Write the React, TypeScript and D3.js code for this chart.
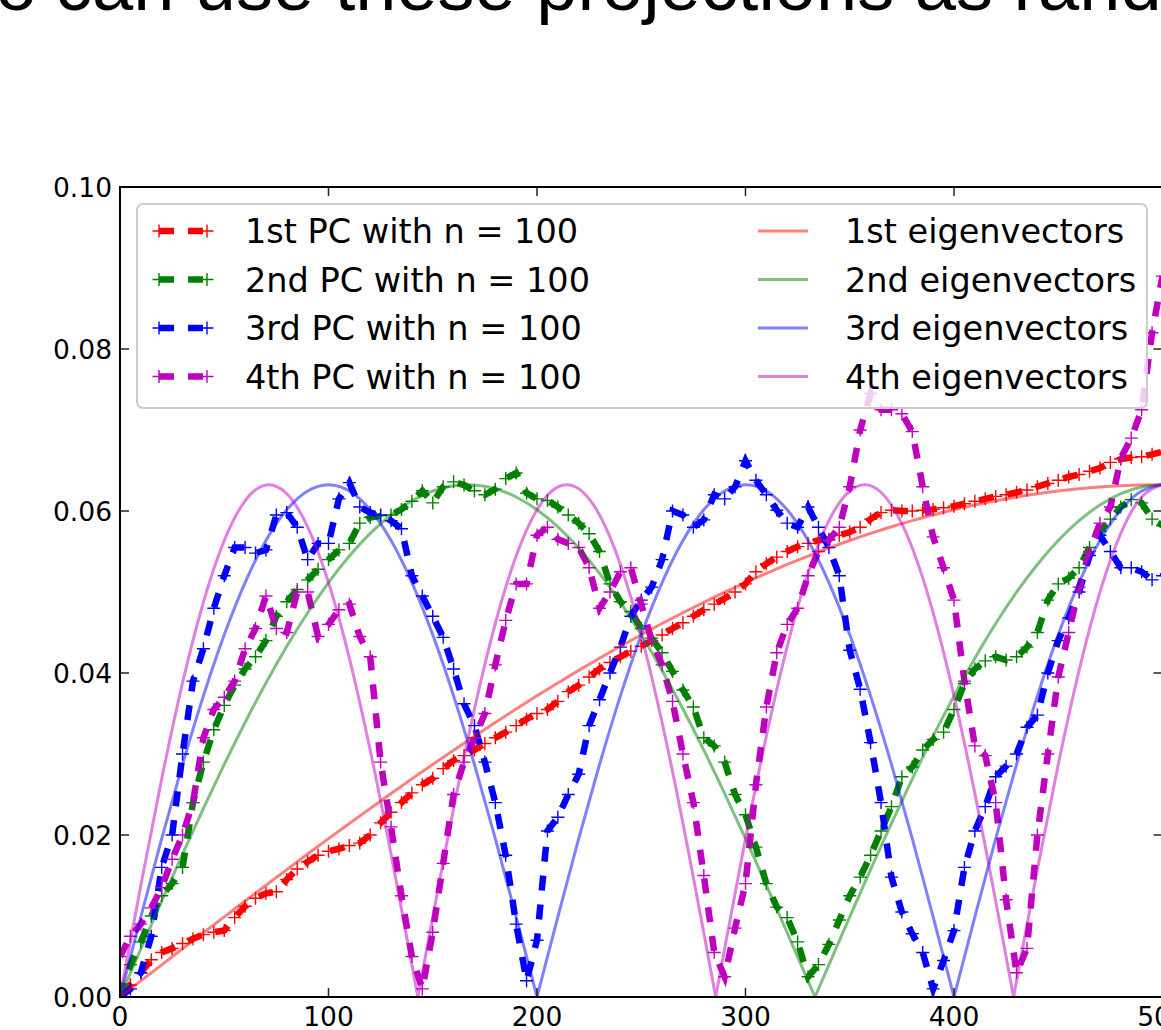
import React from 'react';
import * as d3 from 'd3';

// ---- data ----
const xTicks = [0, 100, 200, 300, 400, 500];
const yTicks = [0, 0.02, 0.04, 0.06, 0.08, 0.1];
const pcX = d3.range(0, 501, 5);

const pc1 = [
  0.0005, 0.0015, 0.0030, 0.0046, 0.0055, 0.0060, 0.0066, 0.0072, 0.0077, 0.0080,
  0.0082, 0.0098, 0.0112, 0.0122, 0.0128, 0.0130, 0.0145, 0.0158, 0.0167, 0.0175,
  0.0180, 0.0183, 0.0187, 0.0190, 0.0200, 0.0215, 0.0228, 0.0240, 0.0252, 0.0262,
  0.0270, 0.0282, 0.0292, 0.0298, 0.0305, 0.0313, 0.0320, 0.0327, 0.0335, 0.0343,
  0.0350, 0.0355, 0.0365, 0.0377, 0.0385, 0.0395, 0.0405, 0.0413, 0.0420, 0.0427,
  0.0433, 0.0440, 0.0447, 0.0455, 0.0462, 0.0470, 0.0478, 0.0485, 0.0492, 0.0500,
  0.0510, 0.0525, 0.0535, 0.0543, 0.0550, 0.0556, 0.0560, 0.0564, 0.0565, 0.0570,
  0.0574, 0.0580, 0.0590, 0.0598, 0.0601, 0.0600, 0.0600, 0.0601, 0.0602, 0.0604,
  0.0606, 0.0609, 0.0612, 0.0615, 0.0618, 0.0620, 0.0623, 0.0626, 0.0630, 0.0634,
  0.0638, 0.0642, 0.0645, 0.0649, 0.0653, 0.0660, 0.0664, 0.0666, 0.0667, 0.0670,
  0.0673,
];
const pc2 = [
  0.0000, 0.0040, 0.0068, 0.0100, 0.0125, 0.0140, 0.0160, 0.0240, 0.0290, 0.0330,
  0.0360, 0.0385, 0.0405, 0.0420, 0.0440, 0.0470, 0.0488, 0.0503, 0.0515, 0.0528,
  0.0540, 0.0552, 0.0560, 0.0585, 0.0592, 0.0594, 0.0595, 0.0602, 0.0612, 0.0625,
  0.0610, 0.0630, 0.0636, 0.0632, 0.0625, 0.0620, 0.0627, 0.0640, 0.0647, 0.0622,
  0.0615, 0.0613, 0.0605, 0.0595, 0.0585, 0.0572, 0.0550, 0.0510, 0.0488, 0.0476,
  0.0455, 0.0443, 0.0425, 0.0402, 0.0379, 0.0358, 0.0320, 0.0310, 0.0290, 0.0250,
  0.0225, 0.0185, 0.0140, 0.0111, 0.0098, 0.0068, 0.0025, 0.0040, 0.0065, 0.0095,
  0.0125, 0.0148, 0.0175, 0.0205, 0.0235, 0.0272, 0.0284, 0.0305, 0.0318, 0.0327,
  0.0355, 0.0387, 0.0405, 0.0415, 0.0420, 0.0416, 0.0420, 0.0432, 0.0450, 0.0490,
  0.0510, 0.0517, 0.0530, 0.0555, 0.0575, 0.0590, 0.0605, 0.0614, 0.0610, 0.0590,
  0.0582,
];
const pc3 = [
  0.0000, 0.0010, 0.0030, 0.0075, 0.0160, 0.0200, 0.0300, 0.0390, 0.0430, 0.0480,
  0.0520, 0.0555, 0.0555, 0.0548, 0.0552, 0.0595, 0.0598, 0.0580, 0.0540, 0.0560,
  0.0560, 0.0615, 0.0635, 0.0605, 0.0598, 0.0595, 0.0588, 0.0578, 0.0520, 0.0495,
  0.0470, 0.0444, 0.0405, 0.0362, 0.0335, 0.0290, 0.0240, 0.0175, 0.0090, 0.0020,
  0.0070, 0.0205, 0.0222, 0.0250, 0.0275, 0.0335, 0.0367, 0.0400, 0.0432, 0.0470,
  0.0490, 0.0506, 0.0540, 0.0600, 0.0595, 0.0580, 0.0589, 0.0620, 0.0615, 0.0630,
  0.0662, 0.0638, 0.0620, 0.0601, 0.0585, 0.0580, 0.0605, 0.0580, 0.0555, 0.0520,
  0.0428, 0.0380, 0.0314, 0.0240, 0.0148, 0.0105, 0.0078, 0.0055, 0.0010, 0.0045,
  0.0082, 0.0160, 0.0205, 0.0235, 0.0272, 0.0285, 0.0300, 0.0333, 0.0348, 0.0400,
  0.0440, 0.0468, 0.0500, 0.0545, 0.0570, 0.0550, 0.0530, 0.0530, 0.0525, 0.0515,
  0.0520,
];
const pc4 = [
  0.0050, 0.0075, 0.0090, 0.0110, 0.0135, 0.0170, 0.0200, 0.0240, 0.0320, 0.0355,
  0.0370, 0.0390, 0.0430, 0.0455, 0.0495, 0.0455, 0.0450, 0.0500, 0.0500, 0.0445,
  0.0460, 0.0478, 0.0485, 0.0445, 0.0420, 0.0290, 0.0210, 0.0125, 0.0050, 0.0010,
  0.0080, 0.0165, 0.0250, 0.0290, 0.0320, 0.0350, 0.0410, 0.0465, 0.0510, 0.0510,
  0.0570, 0.0580, 0.0565, 0.0560, 0.0555, 0.0530, 0.0480, 0.0500, 0.0525, 0.0530,
  0.0485, 0.0440, 0.0410, 0.0365, 0.0300, 0.0240, 0.0150, 0.0055, 0.0025, 0.0085,
  0.0140, 0.0262, 0.0358, 0.0425, 0.0460, 0.0480, 0.0520, 0.0550, 0.0564, 0.0580,
  0.0630, 0.0700, 0.0745, 0.0725, 0.0725, 0.0720, 0.0698, 0.0630, 0.0568, 0.0530,
  0.0490, 0.0390, 0.0310, 0.0298, 0.0240, 0.0120, 0.0030, 0.0060, 0.0200, 0.0300,
  0.0395, 0.0450, 0.0506, 0.0550, 0.0585, 0.0605, 0.0665, 0.0690, 0.0725, 0.0820,
  0.0890,
];

// eigenvector curves as [x, value] pairs
const eig1: [number, number][] = [
  [0, 0], [10, 0.00199], [20, 0.00397], [30, 0.00595], [40, 0.00793], [50, 0.00989],
  [60, 0.01185], [70, 0.0138], [80, 0.01573], [90, 0.01765], [100, 0.01955],
  [110, 0.02143], [120, 0.02328], [130, 0.02512], [140, 0.02693], [150, 0.02871],
  [160, 0.03047], [170, 0.0322], [180, 0.03389], [190, 0.03555], [200, 0.03718],
  [210, 0.03877], [220, 0.04032], [230, 0.04183], [240, 0.0433], [250, 0.04472],
  [260, 0.04611], [270, 0.04744], [280, 0.04873], [290, 0.04998], [300, 0.05117],
  [310, 0.05231], [320, 0.0534], [330, 0.05444], [340, 0.05543], [350, 0.05636],
  [360, 0.05723], [370, 0.05805], [380, 0.05881], [390, 0.05951], [400, 0.06015],
  [410, 0.06074], [420, 0.06126], [430, 0.06173], [440, 0.06213], [450, 0.06247],
  [460, 0.06275], [470, 0.06297], [480, 0.06313], [490, 0.06322], [500, 0.06325],
];
const eig2: [number, number][] = [
  [0, 0], [10, 0.00595], [20, 0.01185], [30, 0.01765], [40, 0.02328], [50, 0.02871],
  [60, 0.03389], [70, 0.03877], [80, 0.0433], [90, 0.04744], [100, 0.05117],
  [110, 0.05444], [120, 0.05723], [130, 0.05951], [140, 0.06126], [150, 0.06247],
  [160, 0.06313], [170, 0.06322], [180, 0.06275], [190, 0.06173], [200, 0.06015],
  [210, 0.05805], [220, 0.05543], [230, 0.05231], [240, 0.04873], [250, 0.04472],
  [260, 0.04032], [270, 0.03555], [280, 0.03047], [290, 0.02512], [300, 0.01955],
  [310, 0.0138], [320, 0.00793], [330, 0.00199], [333.33, 0], [340, 0.00397],
  [350, 0.00989], [360, 0.01573], [370, 0.02143], [380, 0.02693], [390, 0.0322],
  [400, 0.03718], [410, 0.04183], [420, 0.04611], [430, 0.04998], [440, 0.0534],
  [450, 0.05636], [460, 0.05881], [470, 0.06074], [480, 0.06213], [490, 0.06297],
  [500, 0.06325],
];
const eig3: [number, number][] = [
  [0, 0], [10, 0.00989], [20, 0.01955], [30, 0.02871], [40, 0.03718], [50, 0.04472],
  [60, 0.05117], [70, 0.05636], [80, 0.06015], [90, 0.06247], [100, 0.06325],
  [110, 0.06247], [120, 0.06015], [130, 0.05636], [140, 0.05117], [150, 0.04472],
  [160, 0.03718], [170, 0.02871], [180, 0.01955], [190, 0.00989], [200, 0],
  [210, 0.00989], [220, 0.01955], [230, 0.02871], [240, 0.03718], [250, 0.04472],
  [260, 0.05117], [270, 0.05636], [280, 0.06015], [290, 0.06247], [300, 0.06325],
  [310, 0.06247], [320, 0.06015], [330, 0.05636], [340, 0.05117], [350, 0.04472],
  [360, 0.03718], [370, 0.02871], [380, 0.01955], [390, 0.00989], [400, 0],
  [410, 0.00989], [420, 0.01955], [430, 0.02871], [440, 0.03718], [450, 0.04472],
  [460, 0.05117], [470, 0.05636], [480, 0.06015], [490, 0.06247], [500, 0.06325],
];
const eig4: [number, number][] = [
  [0, 0], [10, 0.0138], [20, 0.02693], [30, 0.03877], [40, 0.04873], [50, 0.05636],
  [60, 0.06126], [70, 0.06322], [80, 0.06213], [90, 0.05805], [100, 0.05117],
  [110, 0.04183], [120, 0.03047], [130, 0.01765], [140, 0.00397], [142.86, 0],
  [150, 0.00989], [160, 0.02328], [170, 0.03555], [180, 0.04611], [190, 0.05444],
  [200, 0.06015], [210, 0.06297], [220, 0.06275], [230, 0.05951], [240, 0.0534],
  [250, 0.04472], [260, 0.03389], [270, 0.02143], [280, 0.00793], [285.71, 0],
  [290, 0.00595], [300, 0.01955], [310, 0.0322], [320, 0.0433], [330, 0.05231],
  [340, 0.05881], [350, 0.06247], [360, 0.06313], [370, 0.06074], [380, 0.05543],
  [390, 0.04744], [400, 0.03718], [410, 0.02512], [420, 0.01185], [428.57, 0],
  [430, 0.00199], [440, 0.01573], [450, 0.02871], [460, 0.04032], [470, 0.04998],
  [480, 0.05723], [490, 0.06173], [500, 0.06325],
];

const pcLabels = ['1st PC with n = 100', '2nd PC with n = 100', '3rd PC with n = 100', '4th PC with n = 100'];
const eigLabels = ['1st eigenvectors', '2nd eigenvectors', '3rd eigenvectors', '4th eigenvectors'];
const colors = ['#ff0000', '#008000', '#0000ff', '#bf00bf'];

// split a curve into arches at its zero points so each arch can be smoothed
function arches(pts: [number, number][]) {
  const segs: [number, number][][] = [];
  let cur: [number, number][] = [pts[0]];
  for (let i = 1; i < pts.length; i++) {
    cur.push(pts[i]);
    if (pts[i][1] === 0 && i < pts.length - 1) {
      segs.push(cur);
      cur = [pts[i]];
    }
  }
  segs.push(cur);
  return segs;
}

export default function App() {
  const x = d3.scaleLinear().domain([0, 500]).range([120, 1162.5]);
  const y = d3.scaleLinear().domain([0, 0.1]).range([997, 187]);
  const line = d3.line<[number, number]>().x((d) => x(d[0])).y((d) => y(d[1]));
  const smooth = d3
    .line<[number, number]>()
    .x((d) => x(d[0]))
    .y((d) => y(d[1]))
    .curve(d3.curveNatural);

  const pcs = [pc1, pc2, pc3, pc4].map((vals) => vals.map((v, i) => [pcX[i], v] as [number, number]));
  const eigs = [eig1, eig2, eig3, eig4];

  const ms = 6.5;
  const plusPath = (pts: [number, number][]) =>
    pts
      .map((p) => {
        const px = x(p[0]);
        const py = y(p[1]);
        return `M${px - ms},${py}h${2 * ms}M${px},${py - ms}v${2 * ms}`;
      })
      .join('');

  const fontTick = { fontFamily: 'DejaVu Sans', fontSize: 26.5 };
  const fontLeg = { fontFamily: 'DejaVu Sans', fontSize: 33.5 };
  const rows = [231, 279.5, 328, 376.5];
  const [x0, x1] = [x.range()[0], x.range()[1]];
  const [yb, yt] = [y.range()[0], y.range()[1]];

  return (
    <svg width={1161} height={1030} style={{ position: 'absolute', left: 0, top: 0, display: 'block', background: '#fff' }}>
      <rect x={0} y={0} width={1161} height={1030} fill="#fff" />
      {/* title (cropped at top) */}
      <text x={37} y={10} textAnchor="end" style={{ fontFamily: 'Liberation Sans', fontSize: 74 }} fill="#000">We also</text>
      <text x={55} y={10} style={{ fontFamily: 'Liberation Sans', fontSize: 74 }} fill="#000">can use these projections as random features</text>

      <defs>
        <clipPath id="plotclip">
          <rect x={x0} y={yt} width={x1 - x0} height={yb - yt} />
        </clipPath>
      </defs>

      <g clipPath="url(#plotclip)">
        {pcs.map((pts, i) => (
          <g key={'pc' + i}>
            <path d={line(pts) || ''} fill="none" stroke={colors[i]} strokeWidth={6.5} strokeDasharray="15,14" />
            <path d={plusPath(pts)} fill="none" stroke={colors[i]} strokeWidth={1.4} />
          </g>
        ))}
        {eigs.map((pts, i) => (
          <path
            key={'eig' + i}
            d={arches(pts).map((s) => smooth(s) || '').join('')}
            fill="none"
            stroke={colors[i]}
            strokeOpacity={0.5}
            strokeWidth={3}
          />
        ))}
      </g>

      {/* ticks */}
      {xTicks.map((t) => (
        <g key={'xt' + t}>
          <line x1={x(t)} x2={x(t)} y1={yb} y2={yb - 9} stroke="#222" strokeWidth={1.5} />
          <line x1={x(t)} x2={x(t)} y1={yt} y2={yt + 9} stroke="#222" strokeWidth={1.5} />
          <text x={x(t)} y={1026} textAnchor="middle" style={fontTick} fill="#000">{t}</text>
        </g>
      ))}
      {yTicks.map((t) => (
        <g key={'yt' + t}>
          <line x1={x0} x2={x0 + 9} y1={y(t)} y2={y(t)} stroke="#222" strokeWidth={1.5} />
          <line x1={x1} x2={x1 - 9} y1={y(t)} y2={y(t)} stroke="#222" strokeWidth={1.5} />
          <text x={112} y={y(t) + 9.6} textAnchor="end" style={fontTick} fill="#000">{t.toFixed(2)}</text>
        </g>
      ))}

      {/* spines */}
      <rect x={x0} y={yt} width={x1 - x0} height={yb - yt} fill="none" stroke="#000" strokeWidth={2} />

      {/* legend */}
      <rect x={137} y={204} width={1010} height={204} rx={6} ry={6} fill="#fff" fillOpacity={0.8} stroke="#cccccc" strokeWidth={2} />
      {pcLabels.map((lab, i) => (
        <g key={'lp' + i}>
          <line x1={159} x2={207} y1={rows[i]} y2={rows[i]} stroke={colors[i]} strokeWidth={6.5} strokeDasharray="15,14" />
          <path
            d={`M${159 - ms},${rows[i]}h${2 * ms}M159,${rows[i] - ms}v${2 * ms}M${207 - ms},${rows[i]}h${2 * ms}M207,${rows[i] - ms}v${2 * ms}`}
            stroke={colors[i]}
            strokeWidth={1.4}
            fill="none"
          />
          <text x={245} y={rows[i] + 12} style={fontLeg} fill="#000">{lab}</text>
        </g>
      ))}
      {eigLabels.map((lab, i) => (
        <g key={'le' + i}>
          <line x1={758} x2={808} y1={rows[i]} y2={rows[i]} stroke={colors[i]} strokeOpacity={0.5} strokeWidth={3} />
          <text x={845} y={rows[i] + 12} style={fontLeg} fill="#000">{lab}</text>
        </g>
      ))}
    </svg>
  );
}
